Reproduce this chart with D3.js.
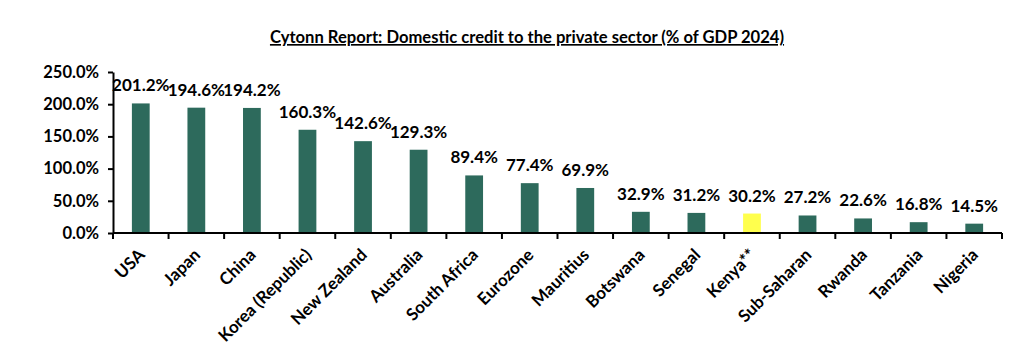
<!DOCTYPE html>
<html><head><meta charset="utf-8">
<script src="https://cdn.jsdelivr.net/npm/d3@7"></script>
<style>body{margin:0;background:#fff}text{font-family:Lato,"Open Sans",sans-serif;font-weight:bold;fill:#000}</style>
</head><body><svg id="c" width="1030" height="358"></svg>
<script>
const categories = ["USA","Japan","China","Korea (Republic)","New Zealand","Australia","South Africa","Eurozone","Mauritius","Botswana","Senegal","Kenya**","Sub-Saharan","Rwanda","Tanzania","Nigeria"];
const values = [201.2,194.6,194.2,160.3,142.6,129.3,89.4,77.4,69.9,32.9,31.2,30.2,27.2,22.6,16.8,14.5];
const highlight = ["Kenya**"];
const yTicks = [0,50,100,150,200,250];
const title = "Cytonn Report: Domestic credit to the private sector (% of GDP 2024)";

const svg = d3.select("#c");
const x = d3.scaleBand().domain(categories).range([113,1002]).paddingInner(0.68).paddingOuter(0.34);
const y = d3.scaleLinear().domain([0,250]).range([233,72]);

svg.append("text").attr("x",527).attr("y",43).attr("text-anchor","middle")
  .style("font-size","16.6px").style("text-decoration","underline").text(title);

svg.selectAll("rect.bar").data(values).join("rect")
  .attr("x",(d,i)=>x(categories[i])).attr("width",x.bandwidth())
  .attr("y",d=>y(d)).attr("height",d=>y(0)-y(d))
  .attr("fill",(d,i)=>highlight.includes(categories[i])?"#FFFF4D":"#2D6A5C");

svg.selectAll("text.val").data(values).join("text")
  .attr("x",(d,i)=>x(categories[i])+x.bandwidth()/2).attr("y",d=>y(d)-12)
  .attr("text-anchor","middle").style("font-size","17px").text(d=>d.toFixed(1)+"%");

const ya = svg.append("g").attr("transform","translate(113,0)")
  .call(d3.axisLeft(y).tickValues(yTicks).tickSize(5).tickSizeOuter(0).tickFormat(d=>d.toFixed(1)+"%"));
ya.select(".domain").attr("stroke","#000").attr("stroke-width",2);
ya.selectAll(".tick line").attr("stroke","#000").attr("stroke-width",2);
ya.selectAll(".tick text").attr("x",-14).style("font-size","16.5px").style("font-family","Lato,sans-serif");

const xa = svg.append("g").attr("transform","translate(0,233)");
xa.append("line").attr("x1",113).attr("x2",1002).attr("stroke","#000").attr("stroke-width",2);
const bounds = categories.map(c=>x(c)-x.step()*x.paddingInner()/2).concat([1002]);
xa.selectAll("line.t").data(bounds).join("line").attr("class","t")
  .attr("x1",d=>d).attr("x2",d=>d).attr("y1",0).attr("y2",6).attr("stroke","#000").attr("stroke-width",2);
xa.selectAll("text").data(categories).join("text")
  .attr("transform",c=>`translate(${x(c)+x.bandwidth()/2+5},${23}) rotate(-45)`)
  .attr("text-anchor","end").style("font-size","17px").text(c=>c);
</script></body></html>
